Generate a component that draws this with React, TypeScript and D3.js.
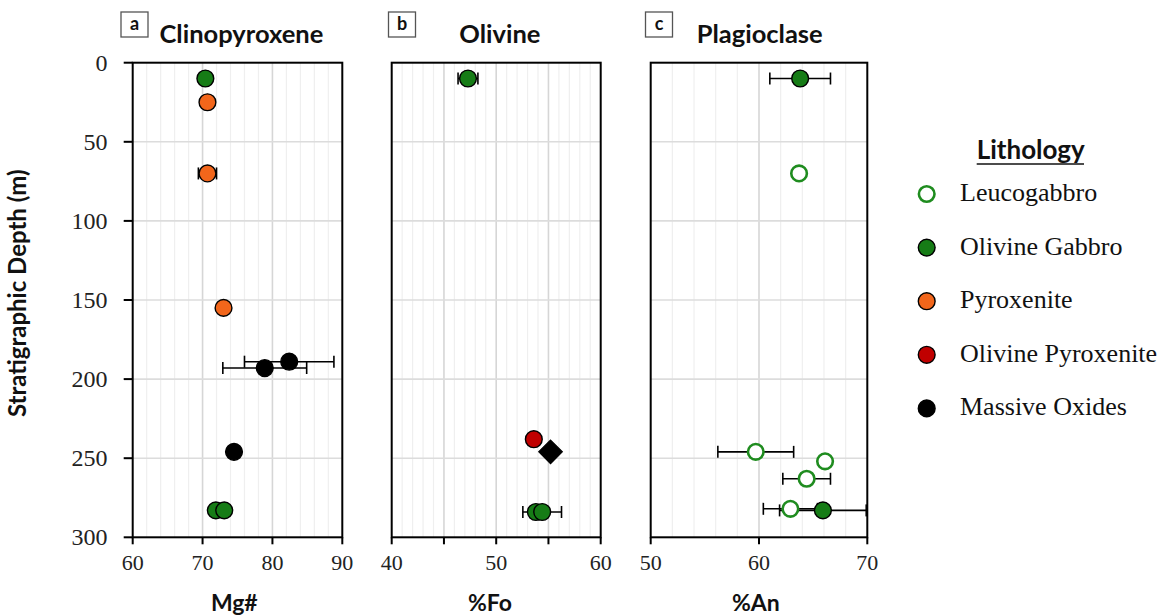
import React from "react";
import * as d3 from "d3";

const lithologies = ["Leucogabbro", "Olivine Gabbro", "Pyroxenite", "Olivine Pyroxenite", "Massive Oxides"];
const lithFill = ["#ffffff", "#167c16", "#f2661b", "#c00000", "#000000"];
const lithStroke = ["#1f8c1f", "#000000", "#000000", "#000000", "#000000"];

const depthTicks = [0, 50, 100, 150, 200, 250, 300];

// Panel a: Clinopyroxene (Mg#)
const cpxLith = ["Olivine Gabbro", "Pyroxenite", "Pyroxenite", "Pyroxenite", "Massive Oxides", "Massive Oxides", "Massive Oxides", "Olivine Gabbro", "Olivine Gabbro"];
const cpxMg = [70.4, 70.7, 70.7, 73.0, 82.4, 78.9, 74.5, 71.9, 73.1];
const cpxDepth = [10, 25, 70, 155, 189, 193, 246, 283, 283];
const cpxErr = [0, 0, 1.3, 0, 6.4, 6.0, 0, 0, 0];
const cpxShape = ["circle", "circle", "circle", "circle", "circle", "circle", "circle", "circle", "circle"];
const cpxTicks = [60, 70, 80, 90];
const cpxTickLabels = ["60", "70", "80", "90"];

// Panel b: Olivine (%Fo)
const olLith = ["Olivine Gabbro", "Olivine Pyroxenite", "Massive Oxides", "Olivine Gabbro", "Olivine Gabbro"];
const olFo = [47.3, 53.6, 55.2, 53.8, 54.4];
const olDepth = [10, 238, 246, 284, 284];
const olErr = [0.95, 0, 0, 0, 1.85];
const olShape = ["circle", "circle", "diamond", "circle", "circle"];
const olTicks = [40, 45, 50, 55, 60];
const olTickLabels = ["40", "", "50", "", "60"];

// Panel c: Plagioclase (%An)
const plLith = ["Olivine Gabbro", "Leucogabbro", "Leucogabbro", "Leucogabbro", "Leucogabbro", "Leucogabbro", "Olivine Gabbro"];
const plAn = [63.8, 63.7, 59.7, 66.1, 64.4, 62.9, 65.9];
const plDepth = [10, 70, 246, 252, 263, 282, 283];
const plErr = [2.8, 0, 3.5, 0, 2.2, 2.5, 4.0];
const plShape = ["circle", "circle", "circle", "circle", "circle", "circle", "circle"];
const plTicks = [50, 60, 70];
const plTickLabels = ["50", "60", "70"];

const SANS = "Lato, 'Open Sans', sans-serif";
const SERIF = "'Liberation Serif', 'DejaVu Serif', serif";

const TOP = 62.7;
const BOTTOM = 537.3;

const panels = [
  { letter: "a", title: "Clinopyroxene", axis: "Mg#", domain: [60, 90], left: 132.7, right: 342.3, ticks: cpxTicks, labels: cpxTickLabels, minor: 2, major: 10, lith: cpxLith, vals: cpxMg, depth: cpxDepth, err: cpxErr, shape: cpxShape, boxX: 121, titleX: 159.5, axisX: 234.3, yAxis: true },
  { letter: "b", title: "Olivine", axis: "%Fo", domain: [40, 60], left: 391.7, right: 600.7, ticks: olTicks, labels: olTickLabels, minor: 1, major: 5, lith: olLith, vals: olFo, depth: olDepth, err: olErr, shape: olShape, boxX: 388.5, titleX: 459.3, axisX: 490, yAxis: false },
  { letter: "c", title: "Plagioclase", axis: "%An", domain: [50, 70], left: 650.7, right: 867.3, ticks: plTicks, labels: plTickLabels, minor: 2, major: 10, lith: plLith, vals: plAn, depth: plDepth, err: plErr, shape: plShape, boxX: 645.5, titleX: 696.7, axisX: 755.8, yAxis: false },
];

function Marker({ shape, cx, cy, li, r }: { shape: string; cx: number; cy: number; li: number; r: number }) {
  const open = li === 0;
  if (shape === "diamond") {
    const d = r * 1.4;
    return <path d={`M${cx},${cy - d}L${cx + d},${cy}L${cx},${cy + d}L${cx - d},${cy}Z`} fill={lithFill[li]} stroke="#000" strokeWidth={1.2} />;
  }
  return <circle cx={cx} cy={cy} r={open ? r - 0.6 : r} fill={lithFill[li]} stroke={lithStroke[li]} strokeWidth={open ? 2.6 : 1.4} />;
}

export default function App() {
  const y = d3.scaleLinear().domain([0, 300]).range([TOP, BOTTOM]);
  const hGrid = depthTicks.slice(1, -1);
  return (
    <svg width={1165} height={616} style={{ position: "absolute", left: 0, top: 0, background: "#fff" }}>
      <rect x={0} y={0} width={1165} height={616} fill="#fff" />
      {panels.map((p) => {
        const x = d3.scaleLinear().domain(p.domain).range([p.left, p.right]);
        const minorVals = d3.range(p.domain[0] + p.minor, p.domain[1] - 1e-9, p.minor);
        return (
          <g key={p.letter}>
            {minorVals.map((v) => {
              const rem = (v - p.domain[0]) % p.major;
              const isMajor = Math.abs(rem) < 1e-6 || Math.abs(rem - p.major) < 1e-6;
              return (
                <line key={"v" + v} x1={x(v)} x2={x(v)} y1={TOP} y2={BOTTOM} stroke={isMajor ? "#d6d6d6" : "#efefef"} strokeWidth={isMajor ? 1.6 : 1.2} />
              );
            })}
            {hGrid.map((d) => (
              <line key={"h" + d} x1={p.left} x2={p.right} y1={y(d)} y2={y(d)} stroke="#dcdcdc" strokeWidth={1.6} />
            ))}
            <rect x={p.left} y={TOP} width={p.right - p.left} height={BOTTOM - TOP} fill="none" stroke="#000" strokeWidth={2} />
            {p.ticks.map((t, i) => (
              <g key={"t" + t}>
                <line x1={x(t)} x2={x(t)} y1={BOTTOM} y2={BOTTOM + 7} stroke="#000" strokeWidth={2} />
                <text x={x(t)} y={570} textAnchor="middle" fontFamily={SERIF} fontSize={22} fill="#222">
                  {p.labels[i]}
                </text>
              </g>
            ))}
            {p.yAxis &&
              depthTicks.map((d) => (
                <g key={"y" + d}>
                  <line x1={p.left - 9} x2={p.left} y1={y(d)} y2={y(d)} stroke="#000" strokeWidth={2} />
                  <text x={107.5} y={y(d) + 8} textAnchor="end" fontFamily={SERIF} fontSize={24} fill="#222">
                    {d}
                  </text>
                </g>
              ))}
            <rect x={p.boxX} y={12} width={27} height={25} fill="#fff" stroke="#555" strokeWidth={1.3} />
            <text x={p.boxX + 13.5} y={30} textAnchor="middle" fontFamily={SANS} fontWeight="bold" fontSize={18} fill="#111">
              {p.letter}
            </text>
            <text x={p.titleX} y={43.3} fontFamily={SANS} fontWeight="bold" fontSize={25.5} fill="#111">
              {p.title}
            </text>
            <text x={p.axisX} y={610.5} textAnchor="middle" fontFamily={SANS} fontWeight="bold" fontSize={23} fill="#111">
              {p.axis}
            </text>
            {p.vals.map((v, i) =>
              p.err[i] > 0 ? (
                <g key={"e" + i} stroke="#000" strokeWidth={1.6}>
                  <line x1={x(v - p.err[i])} x2={x(v + p.err[i])} y1={y(p.depth[i])} y2={y(p.depth[i])} />
                  <line x1={x(v - p.err[i])} x2={x(v - p.err[i])} y1={y(p.depth[i]) - 6} y2={y(p.depth[i]) + 6} />
                  <line x1={x(v + p.err[i])} x2={x(v + p.err[i])} y1={y(p.depth[i]) - 6} y2={y(p.depth[i]) + 6} />
                </g>
              ) : null
            )}
            {p.vals.map((v, i) => (
              <Marker key={"m" + i} shape={p.shape[i]} cx={x(v)} cy={y(p.depth[i])} li={lithologies.indexOf(p.lith[i])} r={8.4} />
            ))}
          </g>
        );
      })}
      <text transform="translate(26,293.3) rotate(-90)" textAnchor="middle" fontFamily={SANS} fontWeight="bold" fontSize={24} fill="#111">
        Stratigraphic Depth (m)
      </text>
      <text x={976.7} y={159} fontFamily={SANS} fontWeight="bold" fontSize={26} fill="#111">
        Lithology
      </text>
      <line x1={976.7} x2={1084} y1={164} y2={164} stroke="#111" strokeWidth={1.5} />
      {lithologies.map((l, i) => {
        const cy = 194 + i * 53.6;
        return (
          <g key={l}>
            <Marker shape="circle" cx={926.7} cy={cy} li={i} r={8.4} />
            <text x={960} y={cy + 7} fontFamily={SERIF} fontSize={26} fill="#111">
              {l}
            </text>
          </g>
        );
      })}
    </svg>
  );
}
